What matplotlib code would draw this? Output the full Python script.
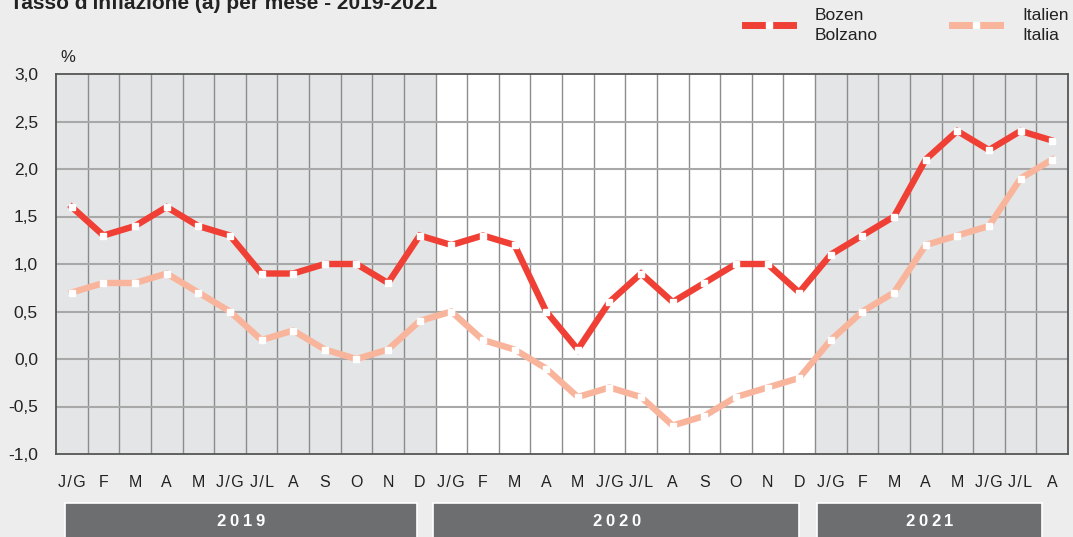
import matplotlib.pyplot as plt
from matplotlib.transforms import blended_transform_factory, offset_copy

plt.rcParams["font.family"] = ["Liberation Sans", "DejaVu Sans"]

# monthly inflation rate (%), Jan 2019 - Aug 2021
month_labels = [
    "J/G", "F", "M", "A", "M", "J/G", "J/L", "A", "S", "O", "N", "D",
    "J/G", "F", "M", "A", "M", "J/G", "J/L", "A", "S", "O", "N", "D",
    "J/G", "F", "M", "A", "M", "J/G", "J/L", "A",
]
bozen = [
    1.6, 1.3, 1.4, 1.6, 1.4, 1.3, 0.9, 0.9, 1.0, 1.0, 0.8, 1.3,
    1.2, 1.3, 1.2, 0.5, 0.1, 0.6, 0.9, 0.6, 0.8, 1.0, 1.0, 0.7,
    1.1, 1.3, 1.5, 2.1, 2.4, 2.2, 2.4, 2.3,
]
italia = [
    0.7, 0.8, 0.8, 0.9, 0.7, 0.5, 0.2, 0.3, 0.1, 0.0, 0.1, 0.4,
    0.5, 0.2, 0.1, -0.1, -0.4, -0.3, -0.4, -0.7, -0.6, -0.4, -0.3, -0.2,
    0.2, 0.5, 0.7, 1.2, 1.3, 1.4, 1.9, 2.1,
]
years = ["2019", "2020", "2021"]
year_first = [0, 12, 24]
year_last = [11, 23, 31]
y_ticks = [-1.0, -0.5, 0.0, 0.5, 1.0, 1.5, 2.0, 2.5, 3.0]

RED = "#F04035"
SALMON = "#F9B49C"
BG = "#EDEDED"
SHADE = "#E4E5E7"
TXT = "#222222"

# year label bars (x extents in data units, slightly inset)
bar_extents = [(-0.22, 10.9), (11.43, 23.0), (23.55, 30.67)]


def spaced_text(fig, trans, xc, yc, s, step_px, **kw):
    # draw characters one by one to get the wide letter spacing
    n = len(s)
    for i, ch in enumerate(s):
        dx = (i - (n - 1) / 2) * step_px
        t = offset_copy(trans, fig=fig, x=dx * 72 / fig.dpi, y=0, units="points")
        fig.text(xc, yc, ch, transform=t, ha="center", va="center", **kw)


def main():
    fig = plt.figure(figsize=(10.73, 5.37), dpi=100, facecolor=BG)
    ax = fig.add_axes([56 / 1073, (537 - 454) / 537,
                       (1068 - 56) / 1073, (454 - 74) / 537])
    n = len(month_labels)
    x = list(range(n))

    ax.set_facecolor("white")
    for i, (a, b) in enumerate(zip(year_first, year_last)):
        if i != 1:
            ax.axvspan(a - 0.5, b + 0.5, color=SHADE, zorder=0, lw=0)

    # grid
    for k in range(1, n):
        ax.axvline(k - 0.5, color="#8C8C8C", lw=1.0, zorder=1)
    for v in y_ticks[1:-1]:
        ax.axhline(v, color="#A8A8A8", lw=1.5, zorder=1)

    ax.plot(x, italia, color=SALMON, lw=4.6, zorder=3, solid_joinstyle="miter",
            marker="s", ms=3.8, mfc="white", mec="white")
    ax.plot(x, bozen, color=RED, lw=4.6, zorder=4, solid_joinstyle="miter",
            marker="s", ms=3.8, mfc="white", mec="white")

    ax.set_xlim(-0.5, n - 0.5)
    ax.set_ylim(-1.0, 3.0)
    ax.set_yticks(y_ticks)
    ax.set_yticklabels([f"{v:.1f}".replace(".", ",") for v in y_ticks],
                       fontsize=12.5, color=TXT)
    ax.set_xticks(x)
    # small extra letter spacing like the original
    ax.set_xticklabels(["\u200a".join(m) for m in month_labels],
                       fontsize=11.5, color=TXT)
    ax.tick_params(axis="both", length=0)
    ax.tick_params(axis="y", pad=13)
    ax.tick_params(axis="x", pad=15)
    for s in ax.spines.values():
        s.set_color("#555555")
        s.set_linewidth(1.3)

    # year bars below the axis
    trans = blended_transform_factory(ax.transData, fig.transFigure)
    for label, (a, b) in zip(years, bar_extents):
        rect = plt.Rectangle((a, -0.05), b - a, 0.05 + (537 - 503) / 537,
                             transform=trans, facecolor="#6D6E70",
                             edgecolor="white", lw=1.2, clip_on=False)
        fig.add_artist(rect)
        spaced_text(fig, trans, (a + b) / 2, (537 - 521) / 537, label, 13,
                    fontsize=12, fontweight="bold", color="white")

    fig.text(60 / 1073, 1 - 57 / 537, "%", fontsize=12, color=TXT,
             ha="left", va="center")

    fig.text(10 / 1073, 1 - 9 / 537, "Tasso d'inflazione (a) per mese - 2019-2021",
             fontsize=15, fontweight="bold", color=TXT,
             ha="left", va="baseline")

    # legend
    for col, x0, t1, t2 in [(RED, 745, "Bozen", "Bolzano"),
                            (SALMON, 952, "Italien", "Italia")]:
        ys = 1 - 25 / 537
        fig.add_artist(plt.Line2D([x0 / 1073, (x0 + 48) / 1073], [ys, ys],
                                  color=col, lw=5, transform=fig.transFigure))
        fig.add_artist(plt.Line2D([(x0 + 24) / 1073], [ys], marker="s", ms=4,
                                  mfc="white", mec="white", lw=0,
                                  transform=fig.transFigure))
        fig.text((x0 + 70) / 1073, 1 - 16 / 537, t1, fontsize=12.5,
                 color=TXT, ha="left", va="center")
        fig.text((x0 + 70) / 1073, 1 - 36 / 537, t2, fontsize=12.5,
                 color=TXT, ha="left", va="center")

    fig.savefig("out.png", dpi=100, facecolor=BG)


if __name__ == "__main__":
    main()
